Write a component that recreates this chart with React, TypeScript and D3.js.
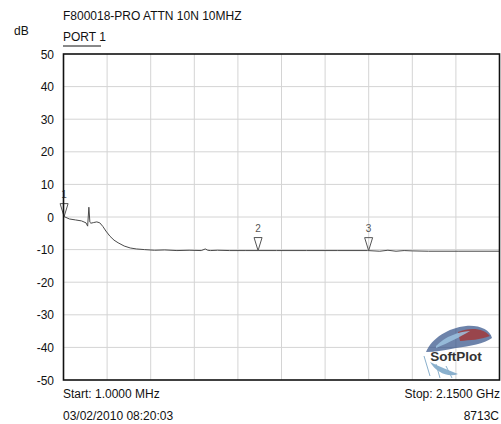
import * as d3 from "d3";

// trace (MHz, dB)
const freqMHz: number[] = [1, 30, 60, 90, 112, 120, 126, 131, 136, 150, 165, 180, 195, 210, 230, 250, 270, 300, 330, 360, 400, 450, 500, 560, 620, 680, 700, 712, 725, 760, 820, 900, 960, 1050, 1200, 1350, 1500, 1560, 1600, 1640, 1680, 1720, 1800, 1950, 2150];
const gainDb: number[] = [0.2, -0.6, -0.9, -1.2, -1.8, -2.8, 3.0, -1.6, -1.9, -1.7, -1.5, -1.8, -2.9, -4.3, -5.9, -7.1, -7.9, -8.9, -9.5, -9.8, -10.0, -10.2, -10.1, -10.3, -10.2, -10.3, -9.8, -10.2, -10.3, -10.2, -10.3, -10.3, -10.3, -10.3, -10.3, -10.3, -10.3, -10.5, -10.2, -10.5, -10.3, -10.4, -10.5, -10.5, -10.5];

const markerFreq: number[] = [4, 960, 1505];
const markerLabels: string[] = ["1", "2", "3"];

const yTicks: number[] = [50, 40, 30, 20, 10, 0, -10, -20, -30, -40, -50];
const xGridCount = 10;

const title = "F800018-PRO ATTN 10N 10MHZ";
const portLabel = "PORT 1";
const startLabel = "Start: 1.0000 MHz";
const stopLabel = "Stop: 2.1500 GHz";
const dateLabel = "03/02/2010 08:20:03";
const modelLabel = "8713C";

export default function App() {
  const w = 501;
  const h = 424;
  const left = 63.5;
  const right = 499.5;
  const top = 54;
  const bottom = 380;

  const x = d3.scaleLinear().domain([1, 2150]).range([left, right]);
  const y = d3.scaleLinear().domain([-50, 50]).range([bottom, top]);
  const gx = d3.scaleLinear().domain([0, xGridCount]).range([left, right]);

  const pts: [number, number][] = freqMHz.map((f, i) => [x(f), y(gainDb[i])]);
  const line = d3.line()(pts) || "";
  const bisect = d3.bisector((d: number) => d).left;

  const valueAt = (f: number) => {
    const i = Math.max(1, Math.min(freqMHz.length - 1, bisect(freqMHz, f)));
    const f0 = freqMHz[i - 1], f1 = freqMHz[i];
    const t = (f - f0) / (f1 - f0);
    return gainDb[i - 1] + t * (gainDb[i] - gainDb[i - 1]);
  };

  const font = "Liberation Sans, Arial, sans-serif";

  return (
    <div style={{ position: "absolute", left: 0, top: 0 }}>
      <svg width={w} height={h} style={{ display: "block", background: "#fff" }} fontFamily={font}>
        {/* grid */}
        {d3.range(1, xGridCount).map((k) => (
          <line key={"gx" + k} x1={gx(k)} x2={gx(k)} y1={top} y2={bottom} stroke="#d4d4d4" strokeWidth={1} />
        ))}
        {yTicks.slice(1, -1).map((t) => (
          <line key={"gy" + t} x1={left} x2={right} y1={y(t)} y2={y(t)} stroke="#d4d4d4" strokeWidth={1} />
        ))}

        {/* logo (rough feather + name) */}
        <g>
          <path d="M426,352 C432,338 448,328 466,326 C480,325 490,330 492,338 C484,344 470,346 456,348 C446,350 436,352 426,352 Z" fill="#2f4f86" opacity={0.7} />
          <path d="M458,332 C470,327 484,328 490,336 C480,340 470,340 460,341 Z" fill="#a8302c" opacity={0.75} />
          <path d="M436,346 C446,336 458,332 470,331 C460,337 450,342 436,348 Z" fill="#9cc3e0" opacity={0.85} />
          <path d="M430,362 C436,372 448,378 458,374 C448,370 438,366 430,362 Z" fill="#6e9ec2" opacity={0.8} />
          <path d="M424,356 L430,376 M436,364 L440,378 M446,366 L452,378" stroke="#8ab0cc" strokeWidth={1} />
          <text x={456} y={361} textAnchor="middle" fontSize={13.5} fontWeight="bold" fill="#333" stroke="#fff" strokeWidth={0.6} paintOrder="stroke">SoftPlot</text>
        </g>

        {/* trace */}
        <path d={line} fill="none" stroke="#4a4a4a" strokeWidth={1} />

        {/* markers */}
        {markerFreq.map((f, i) => {
          const mx = x(f);
          const my = y(valueAt(f));
          return (
            <g key={"m" + i}>
              <path d={`M${mx},${my} L${mx - 4},${my - 13} L${mx + 4},${my - 13} Z`} fill="none" stroke="#555" strokeWidth={1} />
              <text x={mx} y={my - 19} textAnchor="middle" fontSize={10} fill="#555">{markerLabels[i]}</text>
            </g>
          );
        })}

        {/* frame */}
        <rect x={left} y={top} width={right - left} height={bottom - top} fill="none" stroke="#111" strokeWidth={1.6} />

        {/* y tick labels */}
        {yTicks.map((t) => (
          <text key={"t" + t} x={54} y={y(t) + 4.5} textAnchor="end" fontSize={12} fill="#111">{t}</text>
        ))}

        {/* titles */}
        <text x={63} y={20} fontSize={12} fill="#111">{title}</text>
        <text x={14} y={35} fontSize={12} fill="#111">dB</text>
        <text x={63} y={41} fontSize={12} fill="#111">{portLabel}</text>
        <line x1={63} x2={101} y1={46} y2={46} stroke="#111" strokeWidth={1} />

        <text x={63} y={398} fontSize={12} fill="#111">{startLabel}</text>
        <text x={63} y={420} fontSize={12} fill="#111">{dateLabel}</text>
        <text x={500} y={398} textAnchor="end" fontSize={12} fill="#111">{stopLabel}</text>
        <text x={499} y={420} textAnchor="end" fontSize={12} fill="#111">{modelLabel}</text>
      </svg>
    </div>
  );
}
